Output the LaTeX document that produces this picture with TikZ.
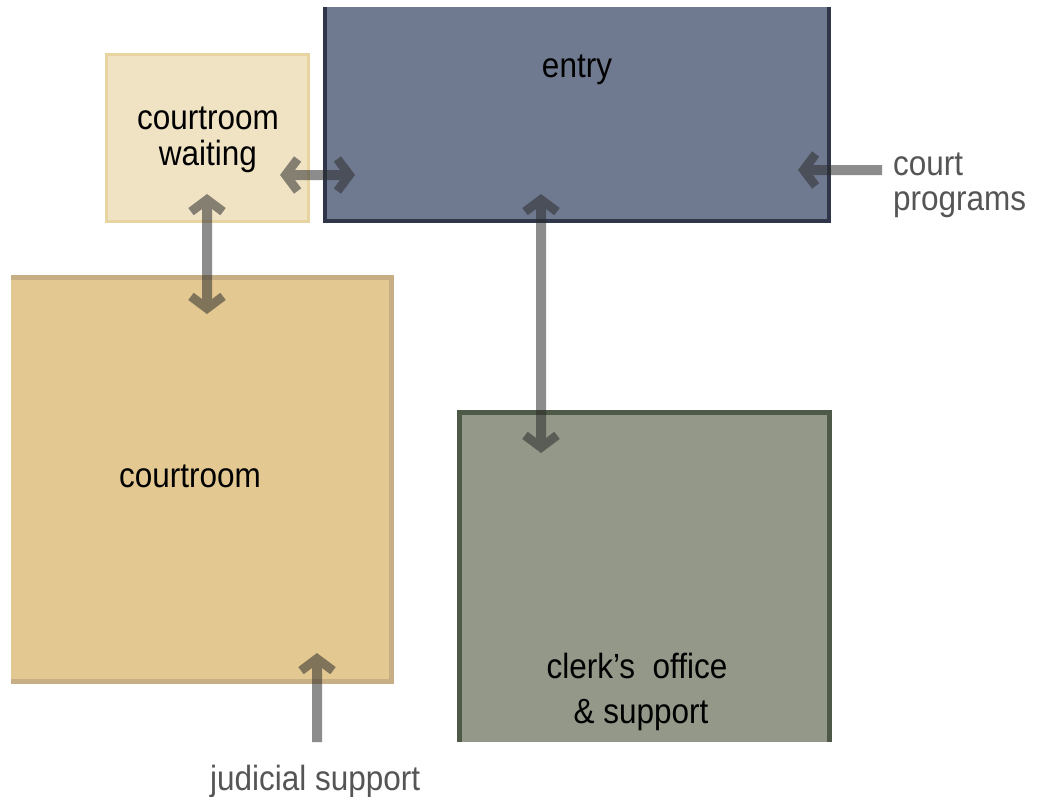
\documentclass[tikz,border=0pt]{standalone}
\usepackage{fontspec}
\setmainfont{Liberation Sans}[FakeStretch=0.9]
\usetikzlibrary{arrows.meta,calc}
\definecolor{waitfill}{HTML}{F0E3C4}
\definecolor{waitline}{HTML}{E7D4A1}
\definecolor{entryfill}{HTML}{6F7A91}
\definecolor{entryline}{HTML}{2F3649}
\definecolor{courtfill}{HTML}{E3C892}
\definecolor{courtline}{HTML}{C8AE84}
\definecolor{clerkfill}{HTML}{939889}
\definecolor{clerkline}{HTML}{4E5947}
\definecolor{labelgray}{HTML}{555555}
\definecolor{flowgray}{HTML}{2B2B2B}
\begin{document}
\begin{tikzpicture}[x=1pt,y=-1pt,
  box/.style={inner sep=0pt, outer sep=0pt, anchor=north west, draw=none},
  lbl/.style={inner sep=0pt, anchor=base, font=\fontsize{35}{40}\selectfont, text=black},
  side/.style={inner sep=0pt, anchor=base west, font=\fontsize{35}{40}\selectfont, text=labelgray},
  barb/.tip={Straight Barb[length=12pt,width=32pt,line width=9pt]},
  flow/.style={line width=10pt, draw=flowgray, -barb},
  flowtwo/.style={line width=10pt, draw=flowgray, barb-barb},
  rim/.style={line join=miter}
]
\useasboundingbox (0,0) rectangle (1038,797);
\fill[white] (0,0) rectangle (1038,797);

% boxes
\node[box, fill=waitfill, minimum width=205pt, minimum height=170pt] (waiting) at (105,53) {};
\node[box, fill=entryfill, minimum width=508pt, minimum height=216pt] (entry) at (323,7) {};
\node[box, fill=courtfill, minimum width=383pt, minimum height=409pt] (court) at (11,275) {};
\node[box, fill=clerkfill, minimum width=375pt, minimum height=332pt] (clerk) at (457,410) {};

% borders
\draw[rim, line width=3pt, waitline] ($(waiting.north west)+(1.5,1.5)$) rectangle ($(waiting.south east)+(-1.5,-1.5)$);
\draw[rim, line width=4pt, entryline] ($(entry.north west)+(2,0)$) -- ($(entry.south west)+(2,-2)$) -- ($(entry.south east)+(-2,-2)$) -- ($(entry.north east)+(-2,0)$);
\draw[rim, line width=5pt, courtline] ($(court.north west)+(0,2.5)$) -- ($(court.north east)+(-2.5,2.5)$) -- ($(court.south east)+(-2.5,-2.5)$) -- ($(court.south west)+(0,-2.5)$);
\draw[rim, line width=5pt, clerkline] ($(clerk.south west)+(2.5,0)$) -- ($(clerk.north west)+(2.5,2.5)$) -- ($(clerk.north east)+(-2.5,2.5)$) -- ($(clerk.south east)+(-2.5,0)$);

% texts
\node[lbl] (entryT) at (577,78) {entry};
\node[lbl] (waitT1) at (208,130) {courtroom};
\node[lbl] (waitT2) at (208,165) {waiting};
\node[lbl] (courtT) at (190,487) {courtroom};
\node[lbl] (clerkT1) at (637,678) {clerk’s\ \ office};
\node[lbl] (clerkT2) at (641,723) {\& support};
\node[side] (cpT1) at (893,175) {court};
\node[side] (cpT2) at (893,210) {programs};
\node[side] (jsT) at (210,790) {judicial support};

% connector end points
\coordinate (a1) at (207,194);
\coordinate (a2) at (207,314);
\coordinate (b1) at (280,175);
\coordinate (b2) at (355,175);
\coordinate (c1) at (541,194);
\coordinate (c2) at (541,453);
\coordinate (d1) at (882,170);
\coordinate (d2) at (798,170);
\coordinate (e1) at (317,742);
\coordinate (e2) at (317,653);

\begin{scope}[transparency group, opacity=0.54]
\draw[flowtwo] (a1) -- (a2);
\draw[flowtwo] (b1) -- (b2);
\draw[flowtwo] (c1) -- (c2);
\draw[flow] (d1) -- (d2);
\draw[flow] (e1) -- (e2);
\end{scope}
\end{tikzpicture}
\end{document}
